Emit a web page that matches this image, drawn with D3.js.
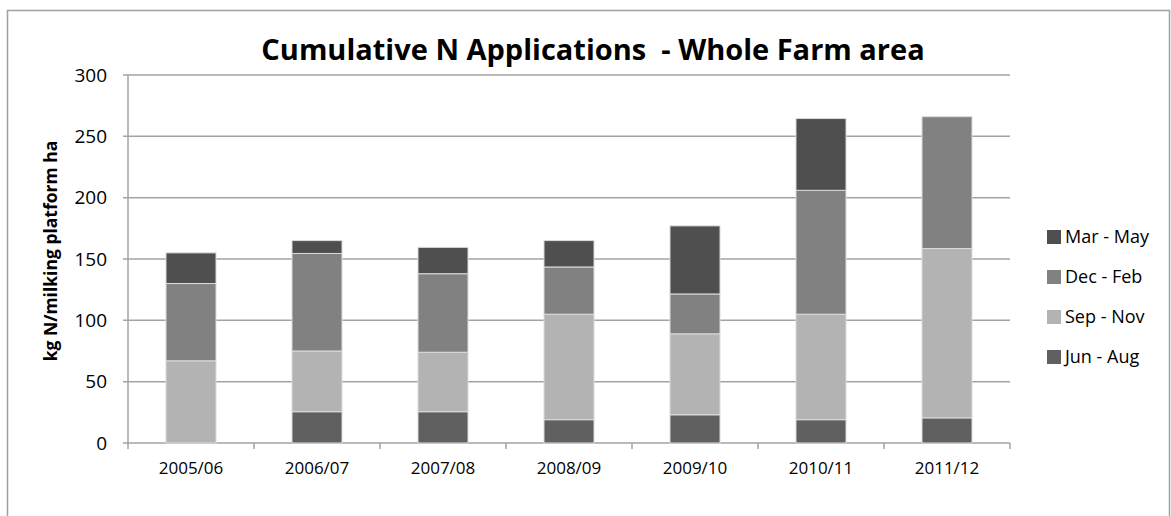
<!DOCTYPE html>
<html>
<head>
<meta charset="utf-8">
<script src="https://cdn.jsdelivr.net/npm/d3@7"></script>
<style>
  body { margin: 0; background: #fff; }
  text { font-family: "Open Sans", "Noto Sans", sans-serif; fill: #000; }
</style>
</head>
<body>
<div id="chart"></div>
<script>
// categories and series
var seasons = ["2005/06", "2006/07", "2007/08", "2008/09", "2009/10", "2010/11", "2011/12"];
var junAug = [0, 25.5, 25.5, 19, 23, 19, 20.5];
var sepNov = [67, 49.5, 48.5, 86, 66, 86, 138];
var decFeb = [63, 79.5, 64, 38.5, 32.5, 101, 107.5];
var marMay = [25, 10.5, 21.5, 21.5, 55.5, 58.5, 0];
var seriesNames = ["Jun - Aug", "Sep - Nov", "Dec - Feb", "Mar - May"];
var yTicks = [0, 50, 100, 150, 200, 250, 300];

var width = 1171, height = 516;
var margin = {left: 128, right: 161, top: 75, bottom: 73};
var colors = {"Jun - Aug": "#606060", "Sep - Nov": "#b3b3b3", "Dec - Feb": "#818181", "Mar - May": "#4f4f4f"};
var gridColor = "#a3a3a3";

var svg = d3.select("#chart").append("svg")
  .attr("width", width)
  .attr("height", height);

// outer chart frame
svg.append("rect")
  .attr("x", 7.5).attr("y", 10.5)
  .attr("width", 1162).attr("height", 530)
  .attr("fill", "none")
  .attr("stroke", "#a0a0a0")
  .attr("stroke-width", 1.5);

// build the table the stack needs
var table = seasons.map(function(s, i) {
  return {season: s, "Jun - Aug": junAug[i], "Sep - Nov": sepNov[i], "Dec - Feb": decFeb[i], "Mar - May": marMay[i]};
});
var stacked = d3.stack().keys(seriesNames)(table);

var x = d3.scaleBand()
  .domain(seasons)
  .range([margin.left, width - margin.right])
  .paddingInner(0.603)
  .paddingOuter(0.3015);

var xOuter = d3.scaleBand()
  .domain(seasons)
  .range([margin.left, width - margin.right]);

var y = d3.scaleLinear()
  .domain([0, 300])
  .range([height - margin.bottom, margin.top]);

// gridlines
svg.append("g")
  .selectAll("line")
  .data(yTicks)
  .enter().append("line")
  .attr("x1", margin.left - 5)
  .attr("x2", width - margin.right)
  .attr("y1", d => y(d))
  .attr("y2", d => y(d))
  .attr("stroke", gridColor)
  .attr("stroke-width", 1.5);

// y axis line
svg.append("line")
  .attr("x1", margin.left).attr("x2", margin.left)
  .attr("y1", y(300)).attr("y2", y(0))
  .attr("stroke", gridColor).attr("stroke-width", 1.5);

// y tick labels
svg.append("g")
  .selectAll("text")
  .data(yTicks)
  .enter().append("text")
  .attr("x", margin.left - 21)
  .attr("y", d => y(d))
  .attr("dy", "0.35em")
  .attr("text-anchor", "end")
  .attr("font-size", 19)
  .text(d => d);

// x axis ticks at category boundaries
var boundaries = seasons.map(s => xOuter(s)).concat([width - margin.right]);
svg.append("g")
  .selectAll("line")
  .data(boundaries)
  .enter().append("line")
  .attr("x1", d => d).attr("x2", d => d)
  .attr("y1", y(0)).attr("y2", y(0) + 6)
  .attr("stroke", gridColor).attr("stroke-width", 1.5);

// bars
var layers = svg.append("g")
  .selectAll("g")
  .data(stacked)
  .enter().append("g")
  .attr("fill", d => colors[d.key]);

layers.selectAll("rect")
  .data(d => d)
  .enter().append("rect")
  .attr("x", d => x(d.data.season))
  .attr("width", x.bandwidth())
  .attr("y", d => y(d[1]))
  .attr("height", d => y(d[0]) - y(d[1]))
  .attr("stroke", "#dcdcdc")
  .attr("stroke-width", d => (d[1] - d[0]) > 0 ? 1 : 0);

// x labels
svg.append("g")
  .selectAll("text")
  .data(seasons)
  .enter().append("text")
  .attr("x", d => xOuter(d) + xOuter.bandwidth() / 2)
  .attr("y", y(0) + 31)
  .attr("text-anchor", "middle")
  .attr("font-size", 17)
  .text(d => d);

// title
svg.append("text")
  .attr("x", 593)
  .attr("y", 60)
  .attr("text-anchor", "middle")
  .attr("font-size", 29)
  .attr("font-weight", "bold")
  .style("white-space", "pre")
  .text("Cumulative N Applications  - Whole Farm area");

// y axis title
svg.append("text")
  .attr("transform", "translate(57," + 251 + ") rotate(-90)")
  .attr("text-anchor", "middle")
  .attr("font-size", 17.5)
  .attr("font-weight", "bold")
  .text("kg N/milking platform ha");

// legend, top to bottom reversed series order
var legendOrder = seriesNames.slice().reverse();
var legend = svg.append("g")
  .selectAll("g")
  .data(legendOrder)
  .enter().append("g")
  .attr("transform", (d, i) => "translate(1047," + (237 + i * 40) + ")");

legend.append("rect")
  .attr("x", 0).attr("y", -7)
  .attr("width", 14).attr("height", 14)
  .attr("fill", d => colors[d]);

legend.append("text")
  .attr("x", 18)
  .attr("y", 0)
  .attr("dy", "0.35em")
  .attr("font-size", 18)
  .text(d => d);
</script>
</body>
</html>
